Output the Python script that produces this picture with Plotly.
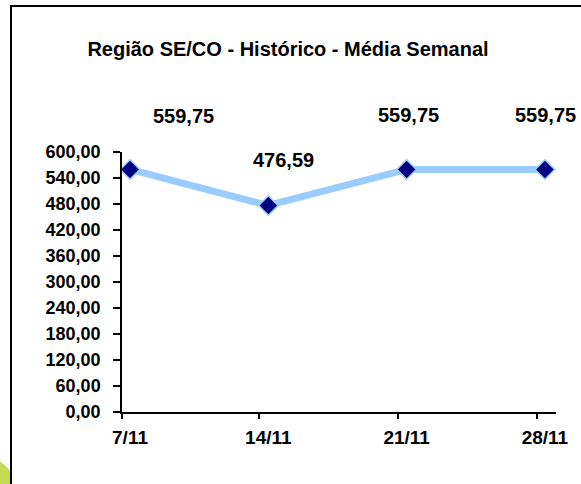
import plotly.graph_objects as go

# Data
weeks = ["7/11", "14/11", "21/11", "28/11"]
values = [559.75, 476.59, 559.75, 559.75]
y_ticks = [0, 60, 120, 180, 240, 300, 360, 420, 480, 540, 600]
title_text = "Região SE/CO - Histórico - Média Semanal"

def br(v):
    return f"{v:.2f}".replace(".", ",")

xpos = list(range(len(weeks)))

fig = go.Figure()
fig.add_trace(go.Scatter(
    x=xpos, y=values, mode="lines+markers",
    line=dict(color="#99CCFF", width=7),
    marker=dict(symbol="diamond", size=15, color="#000080",
                line=dict(color="#99CCFF", width=1.5)),
    hoverinfo="skip", showlegend=False, cliponaxis=False,
))

FONT = "Liberation Sans, Arial, sans-serif"

# data labels (manually placed as in the original)
shifts = [(53, 53), (15, 45), (2, 54), (1, 54)]
for i, v in enumerate(values):
    dx, dy = shifts[i]
    fig.add_annotation(x=xpos[i], y=v, text=f"<b>{br(v)}</b>", showarrow=False,
                       xshift=dx, yshift=dy, xanchor="center", yanchor="middle",
                       font=dict(family=FONT, size=20, color="black"))

# frame and decorative blob
fig.add_shape(type="circle", xref="paper", yref="paper",
              x0=(-207 - 122) / 434, x1=(47 - 122) / 434,
              y0=(412 - 687) / 260, y1=(412 - 433) / 260,
              fillcolor="#c6da55", line=dict(width=0), layer="below")
fig.add_shape(type="rect", xref="paper", yref="paper",
              x0=(11 - 122) / 434, x1=(600 - 122) / 434,
              y0=(412 - 500) / 260, y1=(412 - 6) / 260,
              line=dict(color="black", width=2), fillcolor="white", layer="below")

fig.update_layout(
    width=581, height=484,
    margin=dict(l=122, r=25, t=152, b=72),
    paper_bgcolor="white", plot_bgcolor="rgba(0,0,0,0)",
    title=dict(text=f"<b>{title_text}</b>", x=288 / 581, xanchor="center",
               y=1 - 49 / 484, yanchor="middle", xref="container", yref="container",
               font=dict(family=FONT, size=20, color="black")),
    font=dict(family=FONT, color="black"),
)
fig.update_xaxes(
    range=[-0.058, 3.08], tickvals=xpos, ticktext=[f"<b>{w}</b>" for w in weeks],
    ticks="", showline=True, linecolor="black", linewidth=1.5,
    showgrid=False, zeroline=False, tickfont=dict(size=19, family=FONT),
    ticklabelstandoff=7,
    minor=dict(tickvals=[-0.058, 0.932, 1.937, 2.942], ticks="outside",
               ticklen=5, tickcolor="black", tickwidth=1.5, showgrid=False),
)
fig.update_yaxes(
    range=[0, 600], tickvals=y_ticks, ticktext=[f"<b>{br(t)}</b>" for t in y_ticks],
    ticks="outside", ticklen=7, tickcolor="black", tickwidth=1.5,
    showline=True, linecolor="black", linewidth=1.5,
    showgrid=False, zeroline=False, tickfont=dict(size=18, family=FONT),
    ticklabelstandoff=9,
)

fig.write_html("out.html", config={"displayModeBar": False},
               post_script="document.body.style.margin='0px';document.body.style.overflow='hidden';")
